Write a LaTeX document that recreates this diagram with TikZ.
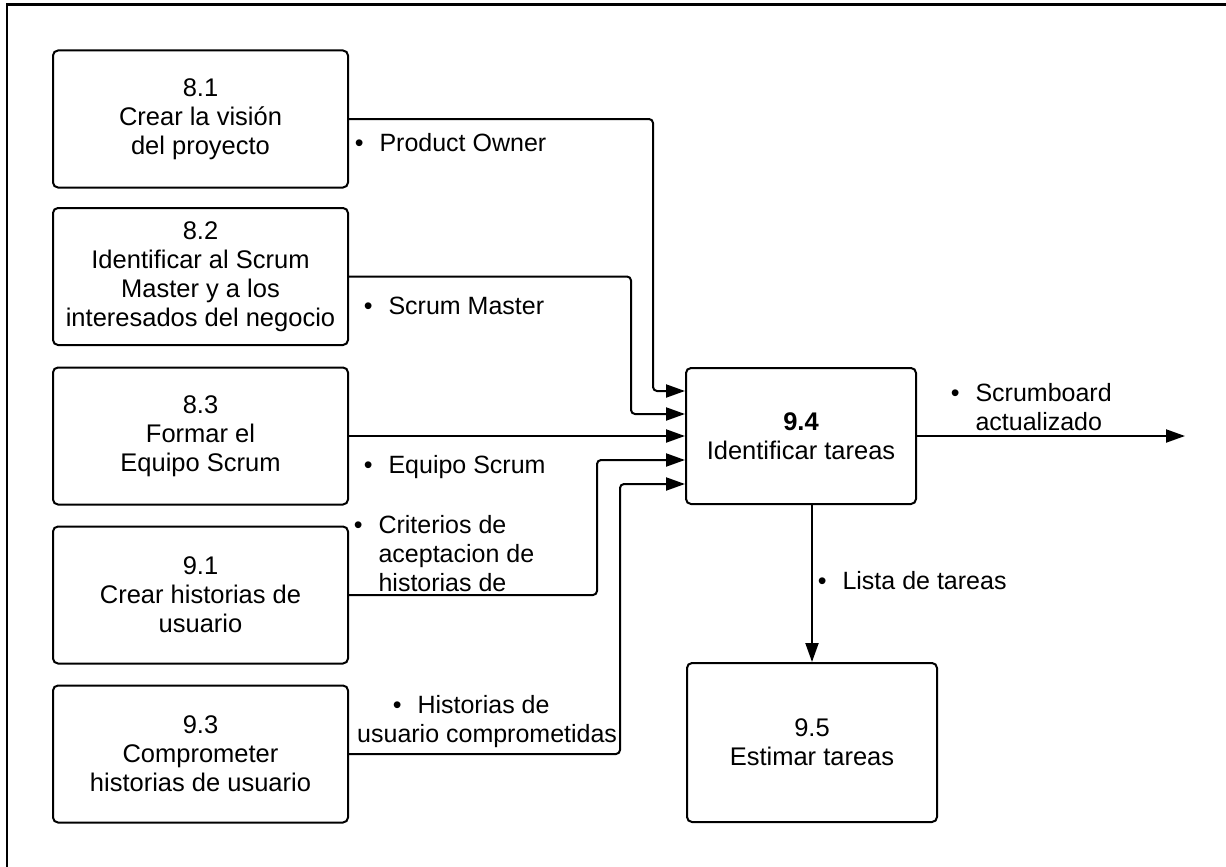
\documentclass[tikz,border=0pt]{standalone}
\usepackage{fontspec}
\setmainfont{Liberation Sans}
\usetikzlibrary{arrows.meta}
\newcommand{\bul}{\makebox[24.75pt][l]{\textbullet}}
\begin{document}
\begin{tikzpicture}[x=1pt,y=-1pt,
  proc/.style={draw, line width=2pt, rounded corners=5pt, align=center, font=\fontsize{25.5}{29}\selectfont, inner sep=0pt},
  lbl/.style={anchor=base west, inner sep=0pt, font=\fontsize{25}{29}\selectfont},
  conn/.style={line width=2pt, rounded corners=4pt, -{Triangle[length=19pt,width=13pt]}},
  lft/.style={proc, minimum width=295pt, minimum height=137pt}
]
\useasboundingbox (0,0) rectangle (1226,867);
\draw[line width=2.7pt] (7,867) -- (7,4.7) -- (1226,4.7);

\node[lft] (b81) at (200.5,119) {8.1\\Crear la visión\\del proyecto};
\node[lft] (b82) at (200.5,276.5) {8.2\\Identificar al Scrum\\Master y a los\\interesados del negocio};
\node[lft] (b83) at (200.5,436) {8.3\\Formar el\\Equipo Scrum};
\node[lft] (b91) at (200.5,595) {9.1\\Crear historias de\\usuario};
\node[lft] (b93) at (200.5,754) {9.3\\Comprometer\\historias de usuario};
\node[proc, minimum width=230pt, minimum height=136pt] (b94) at (801,436) {\textbf{9.4}\\Identificar tareas};
\node[proc, minimum width=250pt, minimum height=159pt] (b95) at (812,742.5) {9.5\\Estimar tareas};

\coordinate (j1) at (653,391);
\coordinate (j2) at (631,414);
\coordinate (j4) at (597,460);
\coordinate (j5) at (620,484);
\coordinate (out) at (1185,436);

\draw[conn] (b81.east) -| (j1) -- (j1 -| b94.west);
\draw[conn] (b82.east) -| (j2) -- (j2 -| b94.west);
\draw[conn] (b83.east) -- (b83.east -| b94.west);
\draw[conn] (b91.east) -| (j4) -- (j4 -| b94.west);
\draw[conn] (b93.east) -| (j5) -- (j5 -| b94.west);
\draw[conn] (b94.east) -- (out);
\draw[conn] (b95.north |- b94.south) -- (b95.north);

\node[lbl] (lpo) at (354.6,151) {\bul Product Owner};
\node[lbl] (lsm) at (363.6,314) {\bul Scrum Master};
\node[lbl] (leq) at (363.6,473) {\bul Equipo Scrum};
\node[lbl] (lcr) at (353.6,533) {\begin{tabular}[t]{@{}l@{}l@{}}\bul&Criterios de\\&aceptacion de\\&historias de\end{tabular}};
\node[lbl] (lhu) at (357,713) {\begin{tabular}[t]{@{}l@{}}\hspace*{35.6pt}\bul Historias de\\usuario comprometidas\end{tabular}};
\node[lbl] (lsb) at (950.6,401) {\begin{tabular}[t]{@{}l@{}l@{}}\bul&Scrumboard\\&actualizado\end{tabular}};
\node[lbl] (llt) at (817.6,589) {\bul Lista de tareas};
\end{tikzpicture}
\end{document}
